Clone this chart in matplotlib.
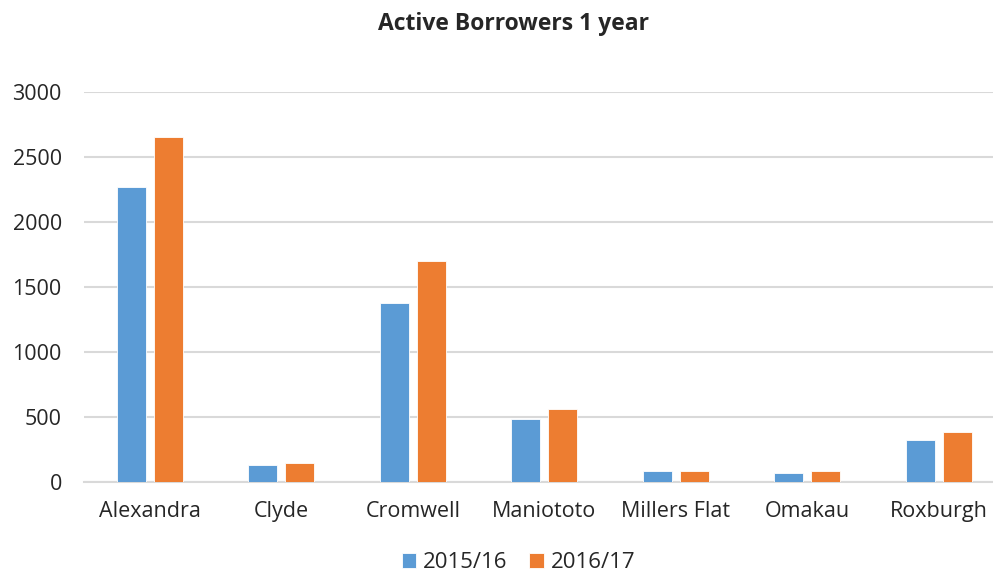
import matplotlib.pyplot as plt
import numpy as np

plt.rcParams['font.family'] = ['Open Sans', 'DejaVu Sans']

branches = ["Alexandra", "Clyde", "Cromwell", "Maniototo", "Millers Flat", "Omakau", "Roxburgh"]
y2015 = [2267, 129, 1374, 478, 80, 65, 319]
y2016 = [2652, 144, 1695, 558, 80, 80, 383]
series = ["2015/16", "2016/17"]
colors = ["#5B9BD5", "#ED7D31"]

fig = plt.figure(figsize=(9.93, 5.77), dpi=100)
ax = fig.add_axes([0.0846, 0.1655, 0.927, 0.675])

x = np.arange(len(branches))
w = 0.22
ax.bar(x - 0.14, y2015, w, color=colors[0], edgecolor="white", linewidth=0.6,
       label=series[0], zorder=3)
ax.bar(x + 0.14, y2016, w, color=colors[1], edgecolor="white", linewidth=0.6,
       label=series[1], zorder=3)

ax.set_xlim(-0.5, len(branches) - 0.5)
ax.set_ylim(0, 3000)
ax.set_yticks(range(0, 3001, 500))
ax.yaxis.grid(True, color="#D9D9D9", linewidth=1.5, zorder=0)
ax.set_axisbelow(True)
for s in ["top", "right", "left"]:
    ax.spines[s].set_visible(False)
ax.spines["bottom"].set_color("#D9D9D9")
ax.spines["bottom"].set_linewidth(1.5)
ax.tick_params(axis="both", length=0, labelsize=15.5, colors="#262626")
ax.tick_params(axis="y", pad=16)
ax.tick_params(axis="x", pad=14)
ax.set_xticks(x)
ax.set_xticklabels(branches)

fig.text(0.517, 0.958, "Active Borrowers 1 year", ha="center", va="center",
         fontsize=16.5, fontweight="bold", color="#262626")

fig.legend(loc="center", bbox_to_anchor=(0.522, 0.025), ncol=2, frameon=False,
           fontsize=16, handlelength=0.65, handleheight=0.65, handletextpad=0.3,
           columnspacing=1.0, labelcolor="#262626")

fig.savefig("out.png", dpi=100)
